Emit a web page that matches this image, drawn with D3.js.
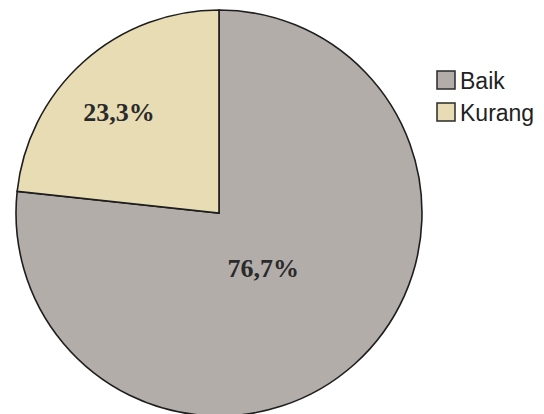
<!DOCTYPE html>
<html>
<head>
<meta charset="utf-8">
<script src="https://cdn.jsdelivr.net/npm/d3@7"></script>
<style>
  html, body { margin: 0; padding: 0; background: #ffffff; }
  svg { display: block; }
</style>
</head>
<body>
<svg id="chart" width="544" height="414"></svg>
<script>
// Category names, shares (%) and fills
const categories = ["Baik", "Kurang"];
const values = [76.7, 23.3];
const valueLabels = ["76,7%", "23,3%"];
const colors = ["#b3adaa", "#e7dcb3"];

const svg = d3.select("#chart");
const cx = 219, cy = 213, radius = 203;

const color = d3.scaleOrdinal().domain(categories).range(colors);

// Baik runs clockwise from 12 o'clock; Kurang fills the remaining wedge
const pie = d3.pie().sort(null).value(d => d.value);
const arcs = pie(categories.map((c, i) => ({ name: c, value: values[i], label: valueLabels[i] })));

const arc = d3.arc().innerRadius(0).outerRadius(radius);

const g = svg.append("g").attr("transform", `translate(${cx},${cy})`);

g.selectAll("path.slice")
  .data(arcs)
  .join("path")
  .attr("class", "slice")
  .attr("d", arc)
  .attr("fill", d => color(d.data.name))
  .attr("stroke", "#1e1e1e")
  .attr("stroke-width", 1.6)
  .attr("stroke-linejoin", "miter");

// Percentage labels inside each slice, nudged slightly off the centroid
const labelRadius = { Baik: radius * 0.34, Kurang: radius * 0.70 };
const labelNudge = { Baik: [-2, 4], Kurang: [-5, 5] };
g.selectAll("text.pct")
  .data(arcs)
  .join("text")
  .attr("class", "pct")
  .attr("transform", d => {
    const r = labelRadius[d.data.name];
    const [x, y] = d3.arc().innerRadius(r).outerRadius(r).centroid(d);
    const [nx, ny] = labelNudge[d.data.name];
    return `translate(${x + nx},${y + ny})`;
  })
  .attr("text-anchor", "middle")
  .attr("dominant-baseline", "central")
  .attr("font-family", "'Liberation Serif', 'Times New Roman', serif")
  .attr("font-weight", "bold")
  .attr("font-size", 26)
  .attr("fill", "#2a2a2a")
  .text(d => d.data.label);

// Legend
const legend = svg.append("g").attr("transform", "translate(437,71)");
const item = legend.selectAll("g.item")
  .data(categories)
  .join("g")
  .attr("class", "item")
  .attr("transform", (d, i) => `translate(0,${i * 32})`);
item.append("rect")
  .attr("width", 18).attr("height", 18)
  .attr("fill", d => color(d))
  .attr("stroke", "#2a2a2a").attr("stroke-width", 1.5);
item.append("text")
  .attr("x", 23).attr("y", 10)
  .attr("dominant-baseline", "central")
  .attr("font-family", "'Liberation Sans', Arial, sans-serif")
  .attr("font-size", 23)
  .attr("fill", "#222")
  .text(d => d);
</script>
</body>
</html>
